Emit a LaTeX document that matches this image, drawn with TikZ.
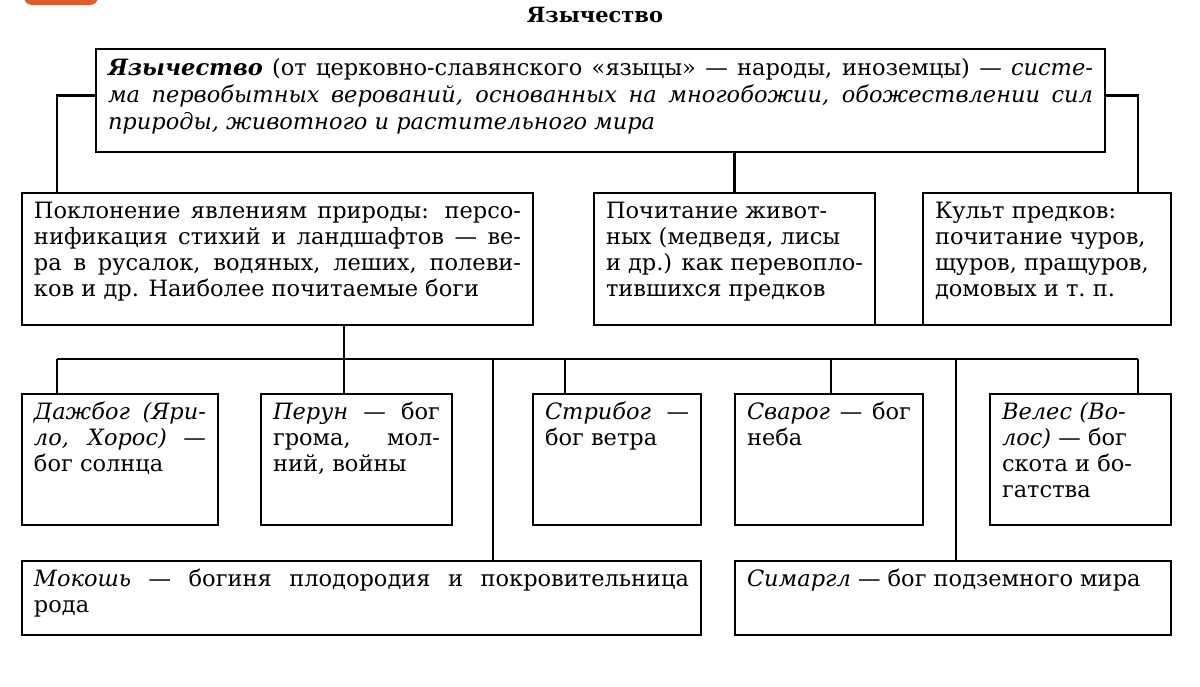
\documentclass[tikz,border=0pt]{standalone}
\usepackage{fontspec}
\setmainfont{DejaVu Serif}
\hyphenpenalty=10000
\exhyphenpenalty=10000
\tolerance=9999
\hbadness=10000
\hfuzz=50pt
\definecolor{tag}{HTML}{E5582B}
\newlength{\bxxs}\setlength{\bxxs}{12pt}
\newlength{\bxys}\setlength{\bxys}{7.5pt}
\tikzset{
  bx/.style={draw, line width=2.5pt, inner xsep=\bxxs, inner ysep=\bxys, outer sep=0pt, anchor=north west},
  ln/.style={line width=2.2pt},
}
% name, x1, y1, x2, y2, text
\newcommand{\bx}[6]{%
  \node[bx] (#1) at (#2,#3) {\parbox[t][\dimexpr #5pt-#3pt-2\bxys\relax][t]{\dimexpr #4pt-#2pt-2\bxxs\relax}{\strut #6}};}
\begin{document}
\begin{tikzpicture}[x=1pt,y=-1pt,font=\fontsize{22.5}{26}\selectfont]
\useasboundingbox (0,0) rectangle (1200,687);
\fill[tag, rounded corners=8pt] (24,-15) rectangle (98,5);
\node[font=\bfseries\fontsize{21}{24}\selectfont] (title) at (595,15) {Язычество};

\bx{top}{96}{49}{1105}{152}{\fontsize{22.5}{27}\selectfont\strut\textbf{\textit{Язычество}} (от церковно-славянского «языцы» — народы, иноземцы) — \textit{систе-}\linebreak
\textit{ма первобытных верований, основанных на многобожии, обожествлении сил}\linebreak
\textit{природы, животного и растительного мира}}

\bx{L1}{22}{193}{533}{325}{Поклонение явлениям природы: персо-\linebreak нификация стихий и ландшафтов — ве-\linebreak ра в русалок, водяных, леших, полеви-\linebreak ков и др. Наиболее почитаемые боги}
\bx{M}{594}{193}{875}{325}{Почитание живот-\\ных (медведя, лисы\\и др.) как перевопло-\\тившихся предков}
\bx{R}{923}{193}{1171}{325}{Культ предков:\\почитание чуров,\\щуров, пращуров,\\домовых и т.~п.}

\bx{Daz}{22}{394}{218}{525}{\textit{Дажбог (Яри-}\linebreak \textit{ло, Хорос)} —\linebreak бог солнца}
\bx{Per}{261}{394}{452}{525}{\textit{Перун} — бог\linebreak грома, мол-\linebreak ний, войны}
\bx{Str}{533}{394}{701}{525}{\textit{Стрибог} —\linebreak бог ветра}
\bx{Sva}{735}{394}{923}{525}{\textit{Сварог} — бог\linebreak неба}
\bx{Vel}{990}{394}{1171}{525}{\textit{Велес (Во-}\\\textit{лос)} — бог\\скота и бо-\\гатства}

\bx{Mok}{22}{561}{701}{635}{\textit{Мокошь} — богиня плодородия и покровительница\linebreak рода}
\bx{Sim}{735}{561}{1171}{635}{\textit{Симаргл} — бог подземного мира}

% connectors from the top box
\draw[ln] ([yshift=5pt]top.west) -| ([xshift=35pt]L1.north west);
\draw[ln] ([yshift=5pt]top.east) -| ([xshift=-33pt]R.north east);
\draw[ln] (M.north) -- (M.north |- top.south);
\draw[ln] (M.south east) -- (R.south west);

% bus
\coordinate (busL) at (57,359);
\coordinate (busR) at (1138,359);
\coordinate (j1) at (344,359);
\coordinate (j2) at (493,359);
\coordinate (j3) at (565,359);
\coordinate (j4) at (831,359);
\coordinate (j5) at (956,359);
\draw[ln] (busL) -- (busR);
\draw[ln] (busL) -- (busL |- Daz.north);
\draw[ln] (j1 |- L1.south) -- (j1 |- Per.north);
\draw[ln] (j2) -- (j2 |- Mok.north);
\draw[ln] (j3) -- (j3 |- Str.north);
\draw[ln] (j4) -- (j4 |- Sva.north);
\draw[ln] (j5) -- (j5 |- Sim.north);
\draw[ln] (busR) -- (busR |- Vel.north);
\end{tikzpicture}
\end{document}
